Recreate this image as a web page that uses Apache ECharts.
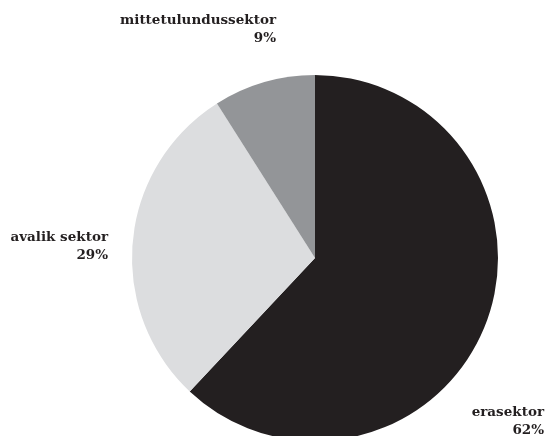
<!DOCTYPE html>
<html>
<head>
<meta charset="utf-8">
<script src="https://cdn.jsdelivr.net/npm/echarts@6/dist/echarts.min.js"></script>
<style>
  html, body { margin: 0; padding: 0; background: #fff; }
  #chart { width: 547px; height: 436px; }
</style>
</head>
<body>
<div id="chart"></div>
<script>
const sectors = ['erasektor', 'avalik sektor', 'mittetulundussektor'];
const shares = [62, 29, 9];
const sliceColors = ['#231f20', '#dcdddf', '#939598'];

// where each label block sits (right edge, vertical middle)
const labelSpots = [[544, 421], [108, 246], [276, 29]];

const chart = echarts.init(document.getElementById('chart'));

const option = {
    animation: false,
    series: [{
        type: 'pie',
        center: [315, 258],
        radius: 183,
        startAngle: 90,
        clockwise: true,
        silent: true,
        data: sectors.map((name, i) => ({
            name: name,
            value: shares[i],
            itemStyle: { color: sliceColors[i] }
        })),
        label: {
            show: true,
            position: 'inside',
            formatter: p => p.name + '\n' + p.value + '%',
            fontFamily: 'DejaVu Serif',
            fontWeight: 'bold',
            fontSize: 13.5,
            lineHeight: 18,
            color: '#231f20',
            align: 'right',
            overflow: 'none'
        },
        labelLine: { show: false },
        labelLayout: params => ({
            x: labelSpots[params.dataIndex][0],
            y: labelSpots[params.dataIndex][1],
            align: 'right',
            verticalAlign: 'middle'
        })
    }]
};

chart.setOption(option);
</script>
</body>
</html>
